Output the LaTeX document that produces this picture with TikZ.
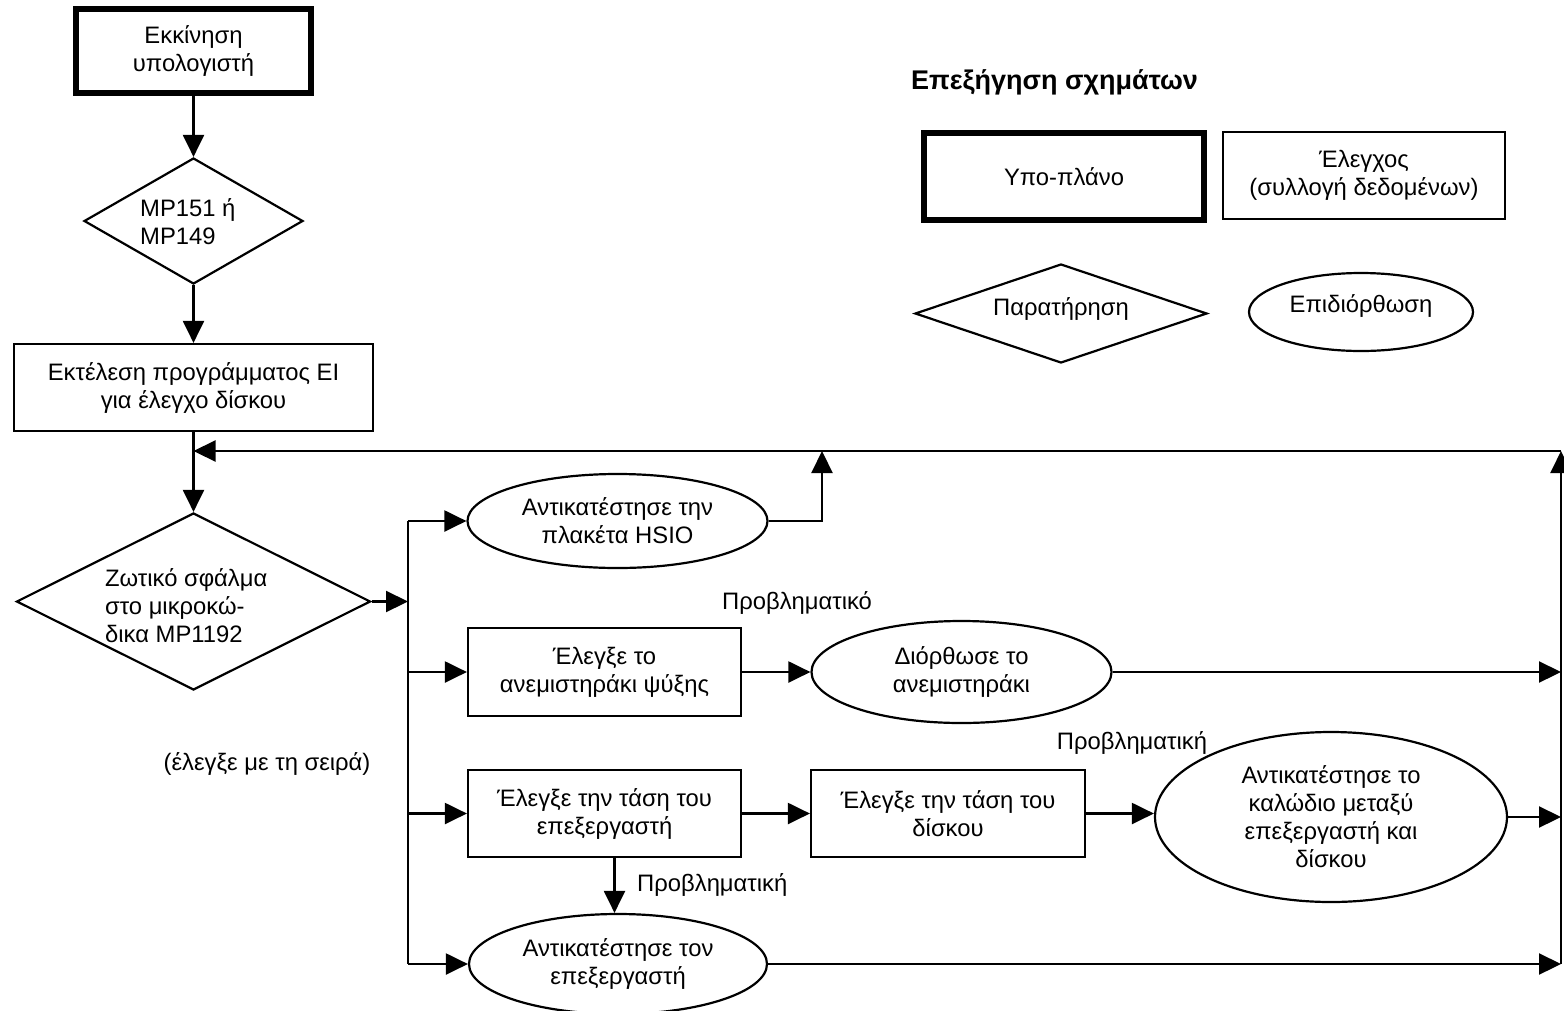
\documentclass[tikz,border=0pt]{standalone}
\usepackage{fontspec}
\setmainfont{Liberation Sans}
\usetikzlibrary{shapes.geometric,arrows.meta}
\tikzset{
  ln/.style={line width=2.2pt},
  arr/.style={ln,-{Triangle[length=22pt,width=21pt]}},
  box/.style={draw,rectangle,line width=2.2pt,align=center,inner sep=0pt},
  thickbox/.style={box,line width=5.5pt},
  oval/.style={draw,ellipse,line width=2.2pt,align=center,inner sep=0pt},
  dia/.style={draw,diamond,line width=2.2pt,inner sep=0pt},
  txt/.style={align=center,inner sep=0pt},
  lbl/.style={inner sep=0pt},
  every node/.style={font=\fontsize{23.8}{28}\selectfont},
}
\begin{document}
\begin{tikzpicture}[x=1pt,y=-1pt]
\useasboundingbox (0,0) rectangle (1564,1010);
\fill[white] (0,0) rectangle (1564,1010);

% ---------- legend ----------
\node[lbl,font=\fontsize{27}{30}\selectfont\bfseries] (title) at (1054.5,82) {Επεξήγηση σχημάτων};
\node[thickbox,minimum width=280pt,minimum height=87pt] (lsub) at (1064,176.5) {Υπο-πλάνο};
\node[box,minimum width=282pt,minimum height=87pt] (lchk) at (1364,175.5) {Έλεγχος\\(συλλογή δεδομένων)};
\node[dia,minimum width=292pt,minimum height=99pt] (ldia) at (1061,313.5) {};
\node[txt] (ldiat) at (1061,309) {Παρατήρηση};
\node[oval,minimum width=224pt,minimum height=78pt] (lfix) at (1361,312) {};
\node[txt] (lfixt) at (1361,306) {Επιδιόρθωση};

% ---------- main flow ----------
\node[thickbox,minimum width=235pt,minimum height=84pt] (start) at (193.5,51) {Εκκίνηση\\υπολογιστή};
\node[dia,minimum width=219pt,minimum height=126pt] (d1) at (193.5,221) {};
\node[txt,align=left,anchor=west] (d1t) at (140,221.5) {MP151 ή\\MP149};
\node[box,minimum width=359pt,minimum height=87pt] (run) at (193.5,387.5) {Εκτέλεση προγράμματος ΕΙ\\για έλεγχο δίσκου};
\node[dia,minimum width=354pt,minimum height=177pt] (d2) at (193.5,601.5) {};
\node[txt,align=left,anchor=west] (d2t) at (105,605.5) {Ζωτικό σφάλμα\\στο μικροκώ-\\δικα MP1192};

\node[oval,minimum width=300pt,minimum height=94pt] (hsio) at (617.5,521) {Αντικατέστησε την\\πλακέτα HSIO};
\node[box,minimum width=273pt,minimum height=88pt] (fan) at (604.5,672) {Έλεγξε το\\ανεμιστηράκι ψύξης};
\node[oval,minimum width=300pt,minimum height=102pt] (fix) at (961.5,672) {Διόρθωσε το\\ανεμιστηράκι};
\node[box,minimum width=273pt,minimum height=87pt] (proc) at (604.5,813.5) {Έλεγξε την τάση του\\επεξεργαστή};
\node[box,minimum width=274pt,minimum height=87pt] (disk) at (948,813.5) {Έλεγξε την τάση του\\δίσκου};
\node[oval,minimum width=352pt,minimum height=170pt] (cable) at (1331,817) {Αντικατέστησε το\\καλώδιο μεταξύ\\επεξεργαστή και\\δίσκου};
\node[oval,minimum width=298pt,minimum height=100pt] (pell) at (618,964) {Αντικατέστησε τον\\επεξεργαστή};

% labels
\node[lbl] (l1) at (797,603) {Προβληματικό};
\node[lbl] (l2) at (1132,743) {Προβληματική};
\node[lbl,anchor=west] (l3) at (637,885) {Προβληματική};
\node[lbl] (l4) at (267,764) {(έλεγξε με τη σειρά)};

% coordinates
\coordinate (bt) at (408,521);
\coordinate (bb) at (408,964);
\coordinate (up) at (822,451);
\coordinate (rt) at (1561,451);
\coordinate (rb) at (1561,964);

% connectors
\draw[arr] (start) -- (d1);
\draw[arr] (d1) -- (run);
\draw[arr] (run) -- (d2);
\draw[arr] (d2.east) -- (d2.east -| bt);
\draw[ln] (bt) -- (bb);
\draw[arr] (bt) -- (hsio);
\draw[arr] (fan.west -| bt) -- (fan.west);
\draw[arr] (proc.west -| bt) -- (proc.west);
\draw[arr] (bb) -- (pell);
\draw[arr] (fan.east) -- (fix.west);
\draw[arr] (proc.east) -- (disk.west);
\draw[arr] (disk.east) -- (cable.west |- disk.east);
\draw[arr] ([xshift=10pt]proc.south) -- ([xshift=10pt]proc.south |- pell.north);
\draw[arr] (hsio.east) -| (up);
\draw[arr] (fix.east) -- (fix.east -| rt);
\draw[arr] (cable.east) -- (cable.east -| rt);
\draw[arr] (pell.east) -- (rb);
\draw[arr] (rb) -- (rt);
\draw[arr] (rt) -- (run.south |- rt);
\end{tikzpicture}
\end{document}
